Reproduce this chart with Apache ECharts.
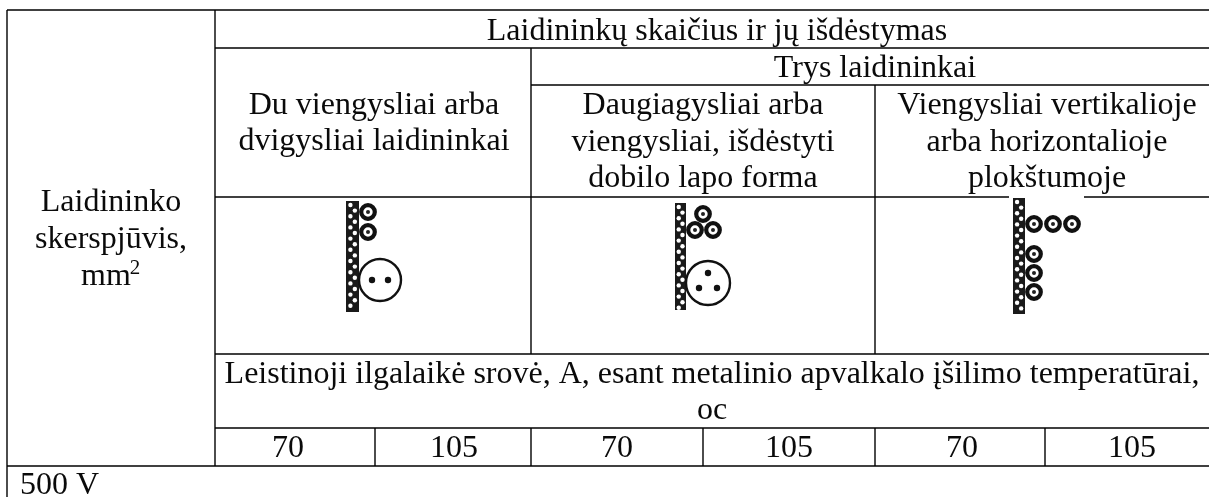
<!DOCTYPE html>
<html>
<head>
<meta charset="utf-8">
<style>
  html, body { margin: 0; padding: 0; background: #fff; }
  #dom { width: 1209px; height: 497px; }
</style>
<script src="https://cdn.jsdelivr.net/npm/echarts@6/dist/echarts.min.js"></script>
</head>
<body>
<div id="dom"></div>
<script>
// table content
const titleText = 'Laidininkų skaičius ir jų išdėstymas'
const threeText = 'Trys laidininkai'
const rowHead = ['Laidininko', 'skerspjūvis,', 'mm']
const twoCol = ['Du viengysliai arba', 'dvigysliai laidininkai']
const cloverCol = ['Daugiagysliai arba', 'viengysliai, išdėstyti', 'dobilo lapo forma']
const planeCol = ['Viengysliai vertikalioje', 'arba horizontalioje', 'plokštumoje']
const currentText = ['Leistinoji ilgalaikė srovė, A, esant metalinio apvalkalo įšilimo temperatūrai,', 'oc']
const temps = ['70', '105', '70', '105', '70', '105']
const voltage = '500 V'

const FONT = '"Liberation Serif", "Times New Roman", serif'
const W = 1209
let els = []

// y is the text baseline
function text (str, x, y, align, size) {
  let s = size || 32
  els.push({
    type: 'text', silent: true, z: 5, x: x, y: y - s * 0.29,
    style: { text: str, fill: '#0a0a0a', font: s + 'px ' + FONT, align: align || 'center', verticalAlign: 'middle' }
  })
}
function rule (x1, y1, x2, y2) {
  els.push({
    type: 'line', silent: true, z: 2,
    shape: { x1: x1, y1: y1, x2: x2, y2: y2 },
    style: { stroke: '#000', lineWidth: 1.4 }
  })
}
function circle (cx, cy, r, fill, stroke, lw) {
  els.push({
    type: 'circle', silent: true, z: 4,
    shape: { cx: cx, cy: cy, r: r },
    style: { fill: fill, stroke: stroke || null, lineWidth: lw || 0 }
  })
}
// small conductor: thick ring with a dot in it
function wire (cx, cy) {
  circle(cx, cy, 6.8, '#fff', '#111', 4.2)
  circle(cx, cy, 2, '#222')
}
function bigCable (cx, cy, r, dots) {
  circle(cx, cy, r, '#fff', '#111', 2.4)
  dots.forEach(d => circle(cx + d[0], cy + d[1], 3.2, '#111'))
}
// perforated mounting wall
function wall (x, y, w, h) {
  els.push({
    type: 'rect', silent: true, z: 3,
    shape: { x: x, y: y, width: w, height: h },
    style: { fill: '#1a1a1a' }
  })
  for (let j = 0, yy = y + 4; yy < y + h - 2; j++, yy += 5.6) {
    let xx = x + (j % 2 ? w * 0.68 : w * 0.34)
    circle(xx, yy, 2.2, '#fff')
  }
}

// horizontal rules
rule(7, 10, W, 10)
rule(215, 48, W, 48)
rule(531, 85, W, 85)
rule(215, 197, 1009, 197)
rule(1084, 197, W, 197)
rule(215, 354, W, 354)
rule(215, 428, W, 428)
rule(7, 466, W, 466)
// vertical rules
rule(7, 10, 7, 497)
rule(215, 10, 215, 466)
rule(531, 48, 531, 354)
rule(875, 85, 875, 354)
rule(375, 428, 375, 466)
rule(531, 428, 531, 466)
rule(703, 428, 703, 466)
rule(875, 428, 875, 466)
rule(1045, 428, 1045, 466)

// header text
text(titleText, 717, 41)
text(threeText, 875, 78)
text(rowHead[0], 111, 212)
text(rowHead[1], 111, 249)
text(rowHead[2], 106, 286)
text('2', 135, 275, 'center', 21)
twoCol.forEach((s, i) => text(s, 374, 115 + i * 36))
cloverCol.forEach((s, i) => text(s, 703, 115 + i * 36.5))
planeCol.forEach((s, i) => text(s, 1047, 115 + i * 36.5))
text(currentText[0], 712, 384)
text(currentText[1], 712, 420)
const tempX = [288, 454, 617, 789, 962, 1132]
temps.forEach((s, i) => text(s, tempX[i], 458))
text(voltage, 20, 495, 'left')

// conductor sketches
wall(346, 201, 13, 111)
wire(368, 212)
wire(368, 232)
bigCable(380, 280, 21, [[-8, 0], [8, 0]])

wall(675, 203, 11, 107)
wire(703, 214)
wire(695, 230)
wire(713, 230)
bigCable(708, 283, 22, [[0, -10], [-9, 5], [9, 5]])

wall(1013, 198, 12, 116)
wire(1034, 224)
wire(1053, 224)
wire(1072, 224)
wire(1034, 254)
wire(1034, 273)
wire(1034, 292)

let chart = echarts.init(document.getElementById('dom'))
chart.setOption({
  backgroundColor: '#fff',
  animation: false,
  graphic: { elements: els }
})
</script>
</body>
</html>
